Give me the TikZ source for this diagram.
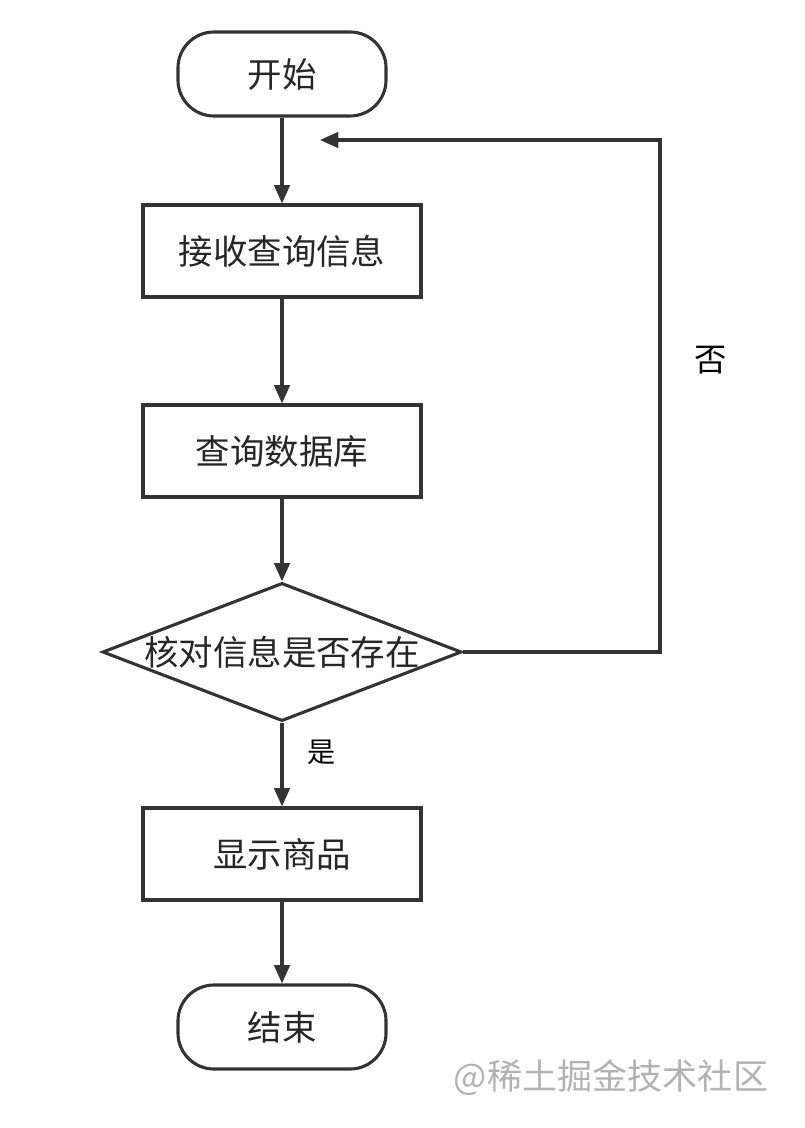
\documentclass[tikz,border=0pt]{standalone}
\usepackage{fontspec}
\setmainfont{Noto Sans CJK SC}
\usetikzlibrary{shapes.geometric,arrows.meta}
\definecolor{Line}{HTML}{333333}
\tikzset{
  flow/.style={draw=Line, line width=2.2pt, font=\fontsize{24.5}{28}\selectfont, text=black!85},
  term/.style={flow, rounded corners=0.9cm, minimum width=5.2cm, minimum height=2.1cm},
  proc/.style={flow, minimum width=6.95cm, minimum height=2.3cm},
  check/.style={flow, diamond, aspect=2.6, minimum width=8.9cm, minimum height=3.45cm, inner sep=0pt},
  link/.style={draw=Line, line width=2.2pt, -{Triangle[width=11pt,length=13pt]}},
}
\begin{document}
\begin{tikzpicture}[x=0.025cm, y=-0.025cm]%
\useasboundingbox (0,0) rectangle (804,1128);%
\node[term] (start) at (282,74) {开始};%
\node[proc] (recv) at (282,251) {接收查询信息};%
\node[proc] (query) at (282,451) {查询数据库};%
\node[check] (exist) at (282,652) {核对信息是否存在};%
\node[proc] (show) at (282,854) {显示商品};%
\node[term] (stop) at (282,1027) {结束};%
\coordinate (loopA) at (660,652);%
\coordinate (loopB) at (660,140);%
\coordinate (loopC) at (320,140);%
\draw[link] (start) -- (recv);%
\draw[link] (recv) -- (query);%
\draw[link] (query) -- (exist);%
\draw[link] (exist) -- node[right=14pt, pos=0.35, font=\fontsize{20}{22}\selectfont] (yes) {是} (show);%
\draw[link] (show) -- (stop);%
\draw[link] (exist.east) -- (loopA) -- node[right=20pt, pos=0.57, font=\fontsize{23}{26}\selectfont] (no) {否} (loopB) -- (loopC);%
\node[text=black!30, font=\fontsize{25}{28}\selectfont] (mark) at (611,1078) {@稀土掘金技术社区};%
\end{tikzpicture}
\end{document}
